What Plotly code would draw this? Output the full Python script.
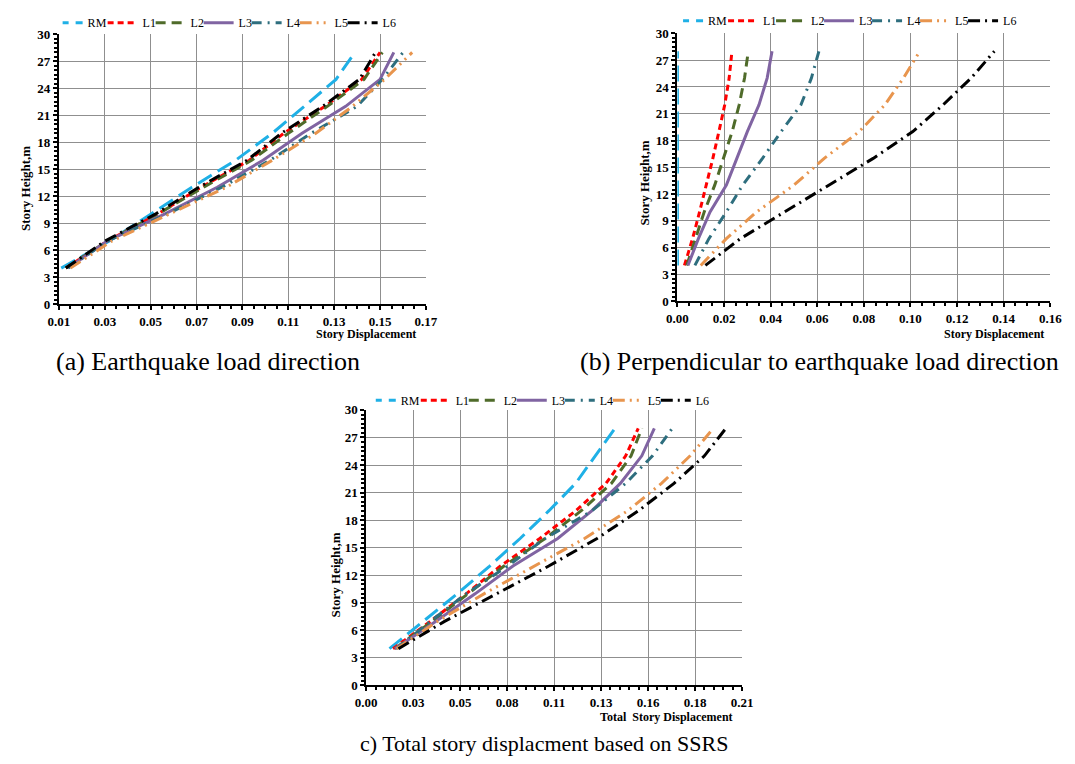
import plotly.graph_objects as go

# ---------------- data ----------------
heights = [4, 7, 10, 13, 16, 19, 22, 25, 28]
series_names = ["RM", "L1", "L2", "L3", "L4", "L5", "L6"]

# (a) Earthquake load direction
a_RM = [0.011, 0.0318, 0.050, 0.068, 0.087, 0.103, 0.117, 0.1308, 0.139]
a_L1 = [0.013, 0.031, 0.053, 0.072, 0.093, 0.108, 0.126, 0.142, 0.150]
a_L2 = [0.013, 0.031, 0.053, 0.073, 0.094, 0.110, 0.127, 0.143, 0.151]
a_L3 = [0.014, 0.031, 0.056, 0.079, 0.099, 0.116, 0.135, 0.150, 0.156]
a_L4 = [0.014, 0.031, 0.057, 0.081, 0.102, 0.120, 0.140, 0.151, 0.160]
a_L5 = [0.015, 0.033, 0.058, 0.083, 0.103, 0.122, 0.138, 0.152, 0.164]
a_L6 = [0.013, 0.030, 0.052, 0.071, 0.092, 0.107, 0.125, 0.141, 0.148]

# (b) Perpendicular to earthquake load direction
b_RM = [0.0, 0.0, 0.0, 0.0, 0.0, 0.0, 0.0, 0.0, 0.0]
b_L1 = [0.003, 0.0065, 0.0095, 0.0125, 0.0152, 0.0178, 0.0203, 0.0222, 0.0234]
b_L2 = [0.004, 0.0078, 0.0115, 0.016, 0.0198, 0.0235, 0.0265, 0.0288, 0.0304]
b_L3 = [0.0045, 0.009, 0.014, 0.021, 0.0255, 0.030, 0.035, 0.0385, 0.0406]
b_L4 = [0.0075, 0.0135, 0.021, 0.028, 0.0365, 0.0445, 0.053, 0.0575, 0.0607]
b_L5 = [0.010, 0.021, 0.034, 0.050, 0.063, 0.078, 0.089, 0.097, 0.104]
b_L6 = [0.012, 0.027, 0.046, 0.065, 0.084, 0.101, 0.114, 0.126, 0.136]

# (c) Total story displacement based on SSRS
c_RM = [0.013, 0.032, 0.051, 0.069, 0.086, 0.102, 0.117, 0.128, 0.139]
c_L1 = [0.015, 0.036, 0.056, 0.075, 0.097, 0.117, 0.134, 0.145, 0.152]
c_L2 = [0.016, 0.037, 0.057, 0.077, 0.100, 0.120, 0.137, 0.148, 0.154]
c_L3 = [0.016, 0.039, 0.061, 0.082, 0.107, 0.126, 0.142, 0.154, 0.161]
c_L4 = [0.017, 0.036, 0.056, 0.079, 0.100, 0.126, 0.145, 0.160, 0.171]
c_L5 = [0.017, 0.040, 0.066, 0.094, 0.122, 0.146, 0.165, 0.181, 0.194]
c_L6 = [0.018, 0.044, 0.073, 0.102, 0.129, 0.152, 0.172, 0.189, 0.201]

c_tickvals = [0.0, 0.02625, 0.0525, 0.07875, 0.105, 0.13125, 0.1575, 0.18375, 0.21]
c_ticktext = ["0.00", "0.03", "0.05", "0.08", "0.11", "0.13", "0.16", "0.18", "0.21"]

captions = ["(a) Earthquake load direction",
            "(b) Perpendicular to earthquake load direction",
            "c) Total story displacment based on SSRS"]

# ---------------- styles ----------------
SERIF = "Times New Roman, Liberation Serif, serif"
colors = {"RM": "#1FB0E6", "L1": "#FF0000", "L2": "#4F6B2A", "L3": "#8064A2",
          "L4": "#2E6E7E", "L5": "#E8954E", "L6": "#000000"}
dashes = {"RM": "16px,7px", "L1": "6px,4px", "L2": "10px,6px", "L3": "solid",
          "L4": "10px,6px,2px,6px", "L5": "12px,5px,2px,5px,2px,5px",
          "L6": "12px,5px,2px,5px"}
legend_widths = {"RM": 25, "L1": 18, "L2": 18, "L3": 18, "L4": 18, "L5": 18, "L6": 18}

W, H = 1075, 764


def px_x(p):
    return p / W


def px_y(p):
    return 1 - p / H


panels = [
    dict(data=[a_RM, a_L1, a_L2, a_L3, a_L4, a_L5, a_L6], xa="x", ya="y", legend="legend"),
    dict(data=[b_RM, b_L1, b_L2, b_L3, b_L4, b_L5, b_L6], xa="x2", ya="y2", legend="legend2"),
    dict(data=[c_RM, c_L1, c_L2, c_L3, c_L4, c_L5, c_L6], xa="x3", ya="y3", legend="legend3"),
]

fig = go.Figure()
for p in panels:
    for name, xs in zip(series_names, p["data"]):
        fig.add_trace(go.Scatter(
            x=xs, y=heights, mode="lines", name=name,
            line=dict(color=colors[name], width=3, dash=dashes[name]),
            xaxis=p["xa"], yaxis=p["ya"], legend=p["legend"],
            legendwidth=legend_widths[name],
            cliponaxis=False, hoverinfo="skip"))

tickfont = dict(family=SERIF, size=13, color="black", weight="bold")
common_y = dict(range=[0, 30], dtick=3, tick0=0, showgrid=True, gridcolor="#8f8f8f",
                gridwidth=1.4, showline=True, linecolor="black", linewidth=2,
                ticks="outside", ticklen=4, tickcolor="black", tickwidth=1.5,
                tickfont=tickfont, zeroline=False, fixedrange=True,
                minor=dict(ticks="outside", ticklen=3, dtick=0.5, tickcolor="black",
                           tickwidth=1.5, showgrid=False))
common_x = dict(showgrid=True, gridcolor="#8f8f8f", gridwidth=1.4, showline=True,
                linecolor="black", linewidth=2, ticks="outside", ticklen=4,
                tickcolor="black", tickwidth=1.5, tickfont=tickfont, zeroline=False,
                fixedrange=True)

fig.update_layout(
    width=W, height=H, margin=dict(l=0, r=0, t=0, b=0),
    paper_bgcolor="white", plot_bgcolor="white",
    font=dict(family=SERIF, color="black"),
    xaxis=dict(common_x, domain=[px_x(49), px_x(424)], range=[0.01, 0.17], tick0=0.01,
               dtick=0.02, tickformat=".2f", anchor="y",
               minor=dict(ticks="outside", ticklen=3, dtick=0.005, tickcolor="black",
                          tickwidth=1.5, showgrid=False)),
    yaxis=dict(common_y, domain=[px_y(303), px_y(28)], anchor="x"),
    xaxis2=dict(common_x, domain=[px_x(681), px_x(1062)], range=[0, 0.16], tick0=0,
                dtick=0.02, tickformat=".2f", anchor="y2", layer="below traces",
                minor=dict(ticks="outside", ticklen=3, dtick=0.005, tickcolor="black",
                           tickwidth=1.5, showgrid=False)),
    yaxis2=dict(common_y, domain=[px_y(300), px_y(27)], anchor="x2", layer="below traces"),
    xaxis3=dict(common_x, domain=[px_x(363), px_x(747)], range=[0, 0.21],
                tickmode="array", tickvals=c_tickvals, ticktext=c_ticktext, anchor="y3",
                minor=dict(ticks="outside", ticklen=3, tickmode="array",
                           tickvals=[i * 0.02625 / 5 for i in range(41)],
                           tickcolor="black", tickwidth=1.5, showgrid=False)),
    yaxis3=dict(common_y, domain=[px_y(692), px_y(411)], anchor="x3"),
    showlegend=True,
)

leg_common = dict(orientation="h", xanchor="center", yanchor="middle",
                  font=dict(family=SERIF, size=12, color="black"),
                  bgcolor="rgba(0,0,0,0)", itemwidth=30, indentation=-15,
                  tracegroupgap=0, itemclick=False, itemdoubleclick=False)
fig.update_layout(
    legend=dict(leg_common, x=px_x(228), y=px_y(16)),
    legend2=dict(leg_common, x=px_x(862), y=px_y(14)),
    legend3=dict(leg_common, x=px_x(548), y=px_y(401)),
)

ann_font = dict(family=SERIF, size=12, color="black", weight="bold")
yt_font = dict(family=SERIF, size=13, color="black", weight="bold")
annotations = [
    dict(text="Story Displacement", x=px_x(363), y=px_y(334), font=ann_font),
    dict(text="Story Displacement", x=px_x(1005), y=px_y(334), font=ann_font),
    dict(text="Total  Story Displacement", x=px_x(670), y=px_y(724), font=ann_font),
    dict(text="Story Height,m", x=px_x(15), y=px_y(185), textangle=-90, font=yt_font),
    dict(text="Story Height,m", x=px_x(647), y=px_y(180), textangle=-90, font=yt_font),
    dict(text="Story Height,m", x=px_x(332), y=px_y(579), textangle=-90, font=yt_font),
]
annotations += [
    dict(text=captions[0], x=px_x(201), y=px_y(362),
         font=dict(family=SERIF, size=26, color="black")),
    dict(text=captions[1], x=px_x(826), y=px_y(362),
         font=dict(family=SERIF, size=26, color="black")),
    dict(text=captions[2], x=px_x(545), y=px_y(751),
         font=dict(family=SERIF, size=22, color="black")),
]
for a in annotations:
    a.update(xref="paper", yref="paper", showarrow=False, xanchor="center", yanchor="middle")
fig.update_layout(annotations=annotations)

fig.write_html("out.html")
